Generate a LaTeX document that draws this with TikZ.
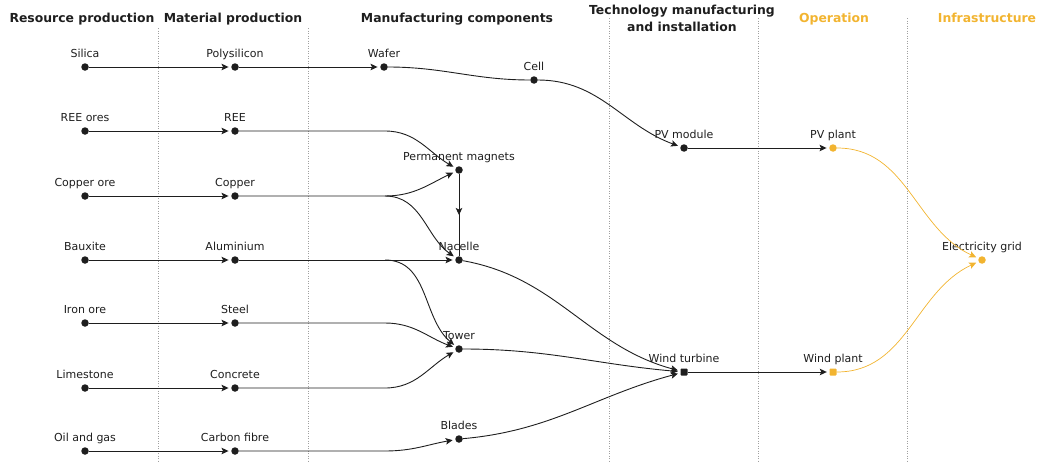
\documentclass[tikz,border=0pt]{standalone}
\usepackage{fontspec}
\setmainfont{DejaVu Sans}
\usetikzlibrary{arrows.meta,calc}
\definecolor{ink}{RGB}{30,30,30}
\definecolor{amber}{RGB}{242,180,48}
\definecolor{rulegray}{RGB}{160,160,160}

\begin{document}
\begin{tikzpicture}[x=1pt,y=-1pt,
  dot/.style={circle,fill=ink,inner sep=0pt,minimum size=7.5pt},
  sqdot/.style={rectangle,rounded corners=0.8pt,fill=ink,inner sep=0pt,minimum size=7pt},
  lbl/.style={font=\fontsize{11}{13}\selectfont,text=ink,inner sep=0pt,text depth=0pt},
  head/.style={font=\fontsize{12.4}{17}\selectfont\bfseries,text=ink,align=center},
  flow/.style={ink,line width=0.9pt},
  arr/.style={flow,-{Stealth[length=7pt,width=6.5pt,inset=1.5pt]},shorten >=2.5pt},
  every label/.style={lbl},label distance=5.5pt]
  \useasboundingbox (0,0) rectangle (1046,463);
  \foreach \x/\ys in {158/28,308/28,609/18,758/18,907/18}
    \draw[rulegray,line width=0.5pt,dash pattern=on 1pt off 1.5pt] (\x,\ys) -- (\x,463);

  \node[head,anchor=base] (hres) at (82,22) {Resource production};
  \node[head,anchor=base] (hmat) at (233,22) {Material production};
  \node[head,anchor=base] (hman) at (457,22) {Manufacturing components};
  \node[head] (htech) at (682,18) {Technology manufacturing\\and installation};
  \node[head,anchor=base,text=amber] (hop) at (834,22) {Operation};
  \node[head,anchor=base,text=amber] (hinf) at (987,22) {Infrastructure};

  \node[dot,label=above:Silica] (sil) at (85,67) {};
  \node[dot,label=above:REE ores] (reo) at (85,131) {};
  \node[dot,label=above:Copper ore] (cuo) at (85,196) {};
  \node[dot,label=above:Bauxite] (bau) at (85,260) {};
  \node[dot,label=above:Iron ore] (feo) at (85,323) {};
  \node[dot,label=above:Limestone] (lim) at (85,388) {};
  \node[dot,label=above:Oil and gas] (oil) at (85,451) {};

  \node[dot,label=above:Polysilicon] (poly) at (235,67) {};
  \node[dot,label=above:REE] (ree) at (235,131) {};
  \node[dot,label=above:Copper] (cu) at (235,196) {};
  \node[dot,label=above:Aluminium] (al) at (235,260) {};
  \node[dot,label=above:Steel] (st) at (235,323) {};
  \node[dot,label=above:Concrete] (conc) at (235,388) {};
  \node[dot,label=above:Carbon fibre] (cf) at (235,451) {};

  \node[dot,label=above:Wafer] (waf) at (384,67) {};
  \node[dot,label=above:Cell] (cell) at (534,80) {};
  \node[dot,label=above:Permanent magnets] (pm) at (459,170) {};
  \node[dot,label=above:Nacelle] (nac) at (459,260) {};
  \node[dot,label=above:Tower] (tow) at (459,349) {};
  \node[dot,label=above:Blades] (bla) at (459,439) {};

  \node[dot,label=above:PV module] (pvm) at (684,148) {};
  \node[sqdot,label=above:Wind turbine] (wt) at (684,372) {};
  \node[dot,fill=amber,label=above:PV plant] (pvp) at (833,148) {};
  \node[sqdot,fill=amber,label=above:Wind plant] (wp) at (833,372) {};
  \node[dot,fill=amber,label=above:Electricity grid] (grid) at (982,260) {};

  \draw[arr] (sil) -- (poly);
  \draw[arr] (poly) -- (waf);
  \draw[flow] (waf) to[out=0,in=180] (cell);
  \draw[arr] (cell) to[out=0,in=160] (pvm);
  \draw[arr] (pvm) -- (pvp);

  \draw[arr] (reo) -- (ree);
  \draw[arr] (cuo) -- (cu);
  \draw[arr] (bau) -- (al);
  \draw[arr] (feo) -- (st);
  \draw[arr] (lim) -- (conc);
  \draw[arr] (oil) -- (cf);

  \draw[arr] (ree) -- ++(150,0) to[out=0,in=150] (pm);
  \draw[arr] (cu) -- ++(150,0) to[out=0,in=205] (pm);
  \draw[arr] (cu) ++(150,0) to[out=0,in=145] (nac);
  \draw[arr] (al) -- (nac);
  \draw[arr] (al) ++(150,0) to[out=0,in=140] (tow);
  \draw[arr] (st) -- ++(150,0) to[out=0,in=160] (tow);
  \draw[arr] (conc) -- ++(150,0) to[out=0,in=210] (tow);
  \draw[arr] (cf) -- ++(150,0) to[out=0,in=190] (bla);
  \draw[flow] (pm) -- (nac);
  \draw[arr,shorten >=0pt] (pm) -- ($(pm)!0.5!(nac)$);

  \draw[arr] (nac) to[out=-10,in=165] (wt);
  \draw[arr] (tow) to[out=0,in=175] (wt);
  \draw[arr] (bla) to[out=5,in=195] (wt);
  \draw[arr] (wt) -- (wp);

  \draw[arr,amber,line width=0.7pt] (pvp) to[out=0,in=155] (grid);
  \draw[arr,amber,line width=0.7pt] (wp) to[out=0,in=205] (grid);
\end{tikzpicture}
\end{document}
